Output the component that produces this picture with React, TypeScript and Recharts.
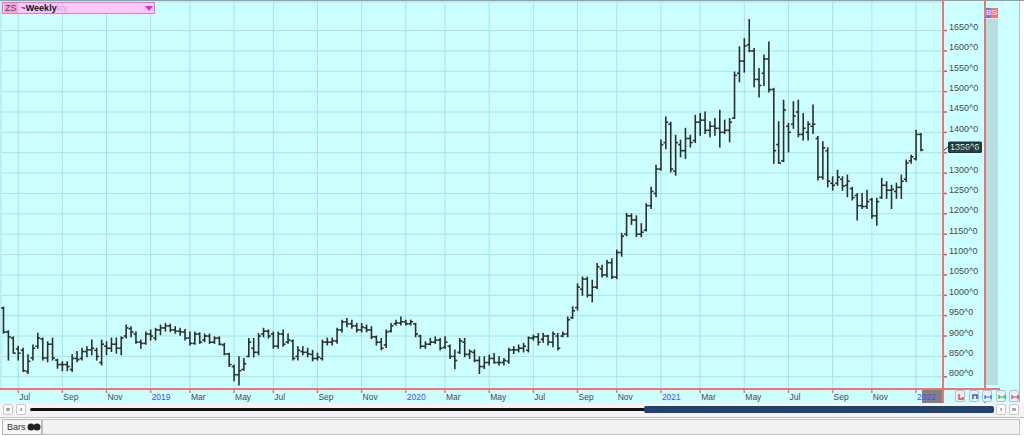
import React from 'react';
import { ComposedChart, Bar, XAxis, YAxis, CartesianGrid, ReferenceLine } from 'recharts';

const FONT = "'Liberation Sans', Arial, sans-serif";

// weekly ZS bars, first bar is the week of 8 Jun 2018
const firstWeekUtc = Date.UTC(2018, 5, 8);
const emptyWeeks = 4;

const opens = [
  969, 910, 895, 868, 865, 813, 846, 875, 893, 846,
  880, 841, 830, 830, 818, 845, 845, 862, 866, 865,
  835, 875, 870, 880, 870, 900, 918, 905, 885, 882,
  905, 895, 915, 920, 925, 915, 912, 910, 895, 882,
  905, 890, 900, 885, 895, 878, 856, 825, 805, 818,
  850, 870, 860, 905, 912, 905, 875, 905, 885, 888,
  850, 862, 860, 855, 845, 845, 885, 885, 888, 915,
  935, 930, 925, 915, 920, 915, 898, 885, 878, 912,
  930, 932, 935, 930, 930, 900, 875, 880, 885, 890,
  872, 875, 850, 860, 885, 855, 860, 840, 825, 835,
  845, 835, 835, 838, 866, 866, 870, 865, 895, 898,
  892, 900, 885, 900, 900, 905, 945, 970, 1015, 1040,
  1000, 1020, 1065, 1050, 1080, 1045, 1105, 1150, 1195, 1185,
  1150, 1160, 1220, 1250, 1310, 1375, 1420, 1305, 1370, 1355,
  1385, 1380, 1425, 1430, 1405, 1415, 1410, 1400, 1405, 1435,
  1545, 1575, 1615, 1600, 1530, 1545, 1580, 1505, 1370, 1330,
  1415, 1420, 1450, 1395, 1400, 1415, 1385, 1290, 1355, 1275,
  1275, 1285, 1270, 1262, 1245, 1220, 1218, 1235, 1195, 1240,
  1270, 1258, 1255, 1265, 1285, 1330, 1335, 1395,
];

const highs = [
  971, 913, 898, 875, 870, 854, 878, 907, 895, 886,
  895, 843, 837, 837, 854, 862, 870, 874, 890, 870,
  890, 886, 895, 895, 898, 927, 923, 910, 890, 910,
  915, 919, 927, 931, 929, 923, 919, 916, 910, 910,
  908, 905, 905, 898, 898, 882, 858, 828, 849, 845,
  894, 894, 906, 919, 915, 910, 910, 915, 905, 890,
  874, 874, 870, 865, 858, 890, 895, 895, 919, 939,
  943, 939, 931, 931, 927, 923, 900, 894, 915, 931,
  939, 947, 939, 939, 931, 902, 886, 894, 898, 894,
  898, 878, 866, 894, 894, 866, 866, 849, 849, 853,
  857, 849, 845, 870, 874, 878, 882, 898, 902, 906,
  906, 902, 910, 906, 910, 947, 972, 1028, 1045, 1045,
  1037, 1078, 1074, 1086, 1090, 1111, 1152, 1201, 1200, 1195,
  1176, 1225, 1265, 1319, 1381, 1438, 1425, 1393, 1381, 1410,
  1393, 1442, 1446, 1450, 1426, 1434, 1454, 1430, 1434, 1548,
  1610, 1630, 1677, 1606, 1557, 1590, 1622, 1508, 1426, 1479,
  1422, 1475, 1479, 1446, 1426, 1467, 1390, 1377, 1362, 1291,
  1307, 1291, 1295, 1265, 1250, 1250, 1258, 1238, 1238, 1287,
  1279, 1270, 1275, 1295, 1332, 1344, 1405, 1397,
];

const lows = [
  907, 841, 858, 841, 813, 808, 841, 870, 841, 837,
  841, 821, 815, 815, 813, 837, 841, 849, 854, 841,
  829, 854, 862, 858, 854, 895, 898, 882, 870, 880,
  890, 890, 903, 912, 911, 907, 902, 890, 878, 880,
  882, 886, 882, 882, 878, 854, 825, 790, 780, 816,
  849, 849, 854, 898, 895, 870, 870, 875, 882, 841,
  841, 854, 849, 839, 841, 841, 878, 878, 882, 910,
  923, 919, 910, 910, 910, 894, 878, 866, 872, 910,
  927, 927, 927, 927, 898, 870, 870, 878, 882, 866,
  870, 845, 820, 857, 849, 845, 837, 808, 820, 829,
  833, 829, 829, 833, 857, 861, 861, 861, 890, 878,
  885, 878, 874, 866, 898, 898, 943, 964, 1000, 996,
  984, 1017, 1045, 1045, 1041, 1041, 1096, 1146, 1174, 1144,
  1144, 1158, 1213, 1242, 1307, 1360, 1303, 1295, 1340, 1336,
  1364, 1375, 1393, 1397, 1389, 1393, 1364, 1397, 1377, 1434,
  1524, 1548, 1598, 1512, 1487, 1515, 1499, 1324, 1324, 1328,
  1352, 1410, 1389, 1381, 1381, 1397, 1283, 1285, 1266, 1258,
  1270, 1258, 1242, 1234, 1185, 1213, 1213, 1189, 1172, 1238,
  1238, 1213, 1238, 1238, 1279, 1324, 1332, 1355,
];

const closes = [
  910, 898, 858, 858, 815, 838, 870, 895, 846, 880,
  846, 830, 830, 825, 845, 842, 862, 866, 870, 850,
  880, 870, 880, 870, 895, 920, 910, 885, 882, 905,
  900, 915, 920, 925, 915, 912, 910, 895, 882, 905,
  885, 900, 885, 895, 880, 856, 830, 805, 815, 832,
  885, 860, 900, 912, 900, 875, 905, 880, 890, 845,
  865, 860, 856, 845, 848, 885, 885, 888, 915, 935,
  930, 925, 915, 922, 915, 898, 885, 870, 910, 925,
  932, 935, 930, 935, 905, 875, 880, 885, 890, 870,
  885, 850, 840, 888, 855, 862, 840, 825, 835, 845,
  835, 835, 840, 866, 866, 870, 875, 895, 898, 885,
  900, 885, 905, 870, 905, 940, 962, 1020, 1040, 1000,
  1020, 1070, 1050, 1080, 1045, 1105, 1145, 1195, 1185, 1150,
  1155, 1220, 1255, 1310, 1370, 1425, 1310, 1375, 1355, 1385,
  1375, 1425, 1430, 1405, 1415, 1410, 1400, 1405, 1425, 1540,
  1575, 1612, 1600, 1530, 1515, 1580, 1505, 1355, 1325, 1455,
  1400, 1440, 1395, 1410, 1420, 1420, 1290, 1362, 1280, 1270,
  1290, 1268, 1280, 1240, 1220, 1218, 1230, 1195, 1230, 1270,
  1258, 1260, 1265, 1280, 1325, 1340, 1395, 1356.75,
];

const lastPrice = 1356.75;
const lastPriceLabel = '1356^6';

const priceTicks = [800, 850, 900, 950, 1000, 1050, 1100, 1150, 1200, 1250, 1300, 1350, 1400, 1450, 1500, 1550, 1600, 1650];

const monthTickDates = [
  '2018-07-01', '2018-09-01', '2018-11-01', '2019-01-01', '2019-03-01', '2019-05-01',
  '2019-07-01', '2019-09-01', '2019-11-01', '2020-01-01', '2020-03-01', '2020-05-01',
  '2020-07-01', '2020-09-01', '2020-11-01', '2021-01-01', '2021-03-01', '2021-05-01',
  '2021-07-01', '2021-09-01', '2021-11-01', '2022-01-01',
];
const monthTickLabels = [
  'Jul', 'Sep', 'Nov', '2019', 'Mar', 'May',
  'Jul', 'Sep', 'Nov', '2020', 'Mar', 'May',
  'Jul', 'Sep', 'Nov', '2021', 'Mar', 'May',
  'Jul', 'Sep', 'Nov', '2022',
];

const DAY = 86400000;
const weekDates: string[] = [];
for (let i = 0; i < opens.length + emptyWeeks; i++) {
  weekDates.push(new Date(firstWeekUtc + i * 7 * DAY).toISOString().slice(0, 10));
}

const data = weekDates.map((d, i) =>
  i < opens.length
    ? { d, range: [lows[i], highs[i]], open: opens[i], high: highs[i], low: lows[i], close: closes[i] }
    : { d }
);

// put each month tick on the nearest weekly bar
const tickLabelByWeek = new Map<string, string>();
const xTicks = monthTickDates.map((md, k) => {
  const t = Date.parse(md);
  let best = weekDates[0];
  let bestDiff = Infinity;
  weekDates.forEach((wd) => {
    const diff = Math.abs(Date.parse(wd) - t);
    if (diff < bestDiff) {
      bestDiff = diff;
      best = wd;
    }
  });
  tickLabelByWeek.set(best, monthTickLabels[k]);
  return best;
});

const RED = '#ec7676';

function OhlcBar(props: any) {
  const { x, y, width, height, payload } = props;
  if (!payload || payload.high == null) return null;
  const top = Math.min(y, y + height);
  const bottom = Math.max(y, y + height);
  const span = payload.high - payload.low || 1;
  const py = (v: number) => top + ((payload.high - v) / span) * (bottom - top);
  const cx = x + width / 2;
  const oy = py(payload.open);
  const cy = py(payload.close);
  return (
    <g stroke="#2e2e2e" strokeWidth={1.6} fill="none">
      <line x1={cx} y1={top - 0.5} x2={cx} y2={bottom + 0.5} />
      <line x1={cx - 2.4} y1={oy} x2={cx} y2={oy} />
      <line x1={cx} y1={cy} x2={cx + 2.4} y2={cy} />
    </g>
  );
}

function MonthTick(props: any) {
  const { x, y, payload } = props;
  const label = tickLabelByWeek.get(payload.value) ?? '';
  const isYear = /^\d{4}$/.test(label);
  return (
    <text x={x + 1} y={y + 5} fontSize={8.5} fontFamily={FONT} fill={isYear ? '#4d4df5' : '#4a4a4a'} textAnchor="start">
      {label}
    </text>
  );
}

function PriceTick(props: any) {
  const { x, y, payload } = props;
  return (
    <text x={x} y={y - 0.5} fontSize={9} fontFamily={FONT} fill="#4a4a4a" textAnchor="start">
      {`${payload.value}^0`}
    </text>
  );
}

function LastPriceTag(props: any) {
  const vb = props.viewBox;
  if (!vb) return null;
  const x0 = vb.x + vb.width;
  const y0 = vb.y;
  return (
    <g>
      <line x1={x0} y1={y0 + 1} x2={x0 + 5} y2={y0 - 3} stroke="#1d3b3b" strokeWidth={1} />
      <rect x={x0 + 5} y={y0 - 8.5} width={34} height={11.5} rx={1.5} fill="#1d3b3b" />
      <text x={x0 + 7} y={y0 + 0.5} fontSize={9} fontFamily={FONT} fill="#e6ffff">
        {lastPriceLabel}
      </text>
    </g>
  );
}

function Arrows({ color, kind }: { color: string; kind: number }) {
  return (
    <svg width={10} height={12} style={{ position: 'absolute', left: 0, top: 0 }}>
      {kind === 0 && <path d="M3 3 V8 H7 V6" stroke={color} strokeWidth={1.3} fill="none" />}
      {kind === 1 && <path d="M3 8 V4 H7 V8" stroke={color} strokeWidth={1.5} fill="none" />}
      {kind === 2 && <path d="M2 4 V8 M8 4 V8 M2 6 H8" stroke={color} strokeWidth={1.2} fill="none" />}
    </svg>
  );
}

export default function App() {
  const buttons = [
    { left: 955, color: '#e03a3a', kind: 0 },
    { left: 968.5, color: '#2a55d0', kind: 1 },
    { left: 982, color: '#3a66e0', kind: 2 },
    { left: 995.5, color: '#33b044', kind: 2 },
    { left: 1009, color: '#e03a3a', kind: 2 },
  ];
  const navBtn = (left: number, glyph: string) => (
    <div
      style={{
        position: 'absolute', left, top: 404, width: 10, height: 11, boxSizing: 'border-box',
        border: '1px solid #c6c6c6', borderRadius: 2, background: '#ffffff', fontSize: 8,
        lineHeight: '9px', textAlign: 'center', color: '#333',
      }}
    >
      {glyph}
    </div>
  );

  return (
    <div style={{ position: 'absolute', left: 0, top: 0, width: 1024, height: 436, background: '#ffffff', overflow: 'hidden', fontFamily: FONT }}>
      <div style={{ position: 'absolute', left: 0, top: 0, width: 1019, height: 403, background: '#ccffff', borderRight: '1px solid #b8b8b8' }} />
      <div style={{ position: 'absolute', left: 0, top: 0, width: 1024, height: 1, background: '#9a9a9a' }} />
      <div style={{ position: 'absolute', left: 922, top: 390, width: 21, height: 13, background: '#808080' }} />

      <div style={{ position: 'absolute', left: 0, top: 0 }}>
        <ComposedChart width={985} height={403} data={data} margin={{ top: 2, right: 0, bottom: 0, left: 1 }}>
          <CartesianGrid stroke="#aae3e3" strokeWidth={1} />
          <XAxis
            dataKey="d"
            ticks={xTicks}
            interval={0}
            height={14}
            axisLine={false}
            tickSize={4}
            tickLine={{ stroke: RED, strokeWidth: 1.5 }}
            tick={<MonthTick />}
          />
          <YAxis
            orientation="right"
            width={42}
            domain={[770, 1720]}
            ticks={priceTicks}
            interval={0}
            allowDataOverflow
            axisLine={false}
            tickSize={4}
            tickLine={{ stroke: '#e05a5a', strokeWidth: 1.5 }}
            tick={<PriceTick />}
          />
          <Bar dataKey="range" shape={<OhlcBar />} isAnimationActive={false} />
          <ReferenceLine y={lastPrice} stroke="none" label={<LastPriceTag />} />
        </ComposedChart>
      </div>

      {/* axis frame lines */}
      <div style={{ position: 'absolute', left: 942, top: 0, width: 2, height: 403, background: RED }} />
      <div style={{ position: 'absolute', left: 984, top: 0, width: 2, height: 403, background: RED }} />
      <div style={{ position: 'absolute', left: 0, top: 388, width: 1000, height: 2, background: RED }} />

      {/* grey strip + B/S */}
      <div style={{ position: 'absolute', left: 986, top: 19, width: 12, height: 366, background: '#b6dfdf' }} />
      <div style={{ position: 'absolute', left: 986, top: 8, width: 5, height: 10, background: '#7272ff', color: '#fff', fontSize: 8, lineHeight: '10px', textAlign: 'center', overflow: 'hidden' }}>B</div>
      <div style={{ position: 'absolute', left: 991, top: 8, width: 7, height: 10, background: '#ff7272', color: '#fff', fontSize: 8, lineHeight: '10px', textAlign: 'center', overflow: 'hidden' }}>S</div>

      {/* symbol header */}
      <div
        style={{
          position: 'absolute', left: 2, top: 2, width: 153, height: 12, boxSizing: 'border-box',
          background: '#f7c9f7', border: '1px solid #e472e4', fontSize: 9, lineHeight: '10px', whiteSpace: 'nowrap',
        }}
      >
        <span style={{ background: '#efaad9', color: '#6e3a55', padding: '0 1px', marginLeft: 1 }}>ZS</span>
        <span style={{ color: '#222', marginLeft: 3 }}>~</span>
        <span style={{ fontWeight: 'bold', color: '#111' }}>Weekly</span>
        <span style={{ color: '#d3a8d3' }}>kly</span>
        <svg width={8} height={5} style={{ position: 'absolute', left: 142, top: 3 }}>
          <path d="M0 0 H8 L4 5 Z" fill="#d630d6" />
        </svg>
      </div>

      {/* x axis buttons */}
      {buttons.map((b, i) => (
        <div
          key={i}
          style={{
            position: 'absolute', left: b.left, top: 390, width: 10, height: 12, boxSizing: 'border-box',
            border: '1px solid #a9c3cf', borderRadius: 2, background: '#e4f1f7',
          }}
        >
          <Arrows color={b.color} kind={b.kind} />
        </div>
      ))}

      {/* scroll bar row */}
      <div style={{ position: 'absolute', left: 0, top: 403, width: 1024, height: 14, background: '#f4f4f4' }} />
      {navBtn(3, '«')}
      {navBtn(16, '‹')}
      <div style={{ position: 'absolute', left: 30, top: 408, width: 616, height: 3, background: '#111', borderRadius: 1.5 }} />
      <div style={{ position: 'absolute', left: 644, top: 406, width: 350, height: 7, background: '#21426c', borderRadius: 2 }} />
      {navBtn(996, '›')}
      {navBtn(1009, '»')}

      {/* bottom tabs */}
      <div style={{ position: 'absolute', left: 0, top: 417, width: 1024, height: 1, background: '#c4c4c4' }} />
      <div style={{ position: 'absolute', left: 42, top: 419, width: 978, height: 16, boxSizing: 'border-box', border: '1px solid #c2c2c2', background: '#f2f2f2' }} />
      <div
        style={{
          position: 'absolute', left: 2, top: 419, width: 40, height: 16, boxSizing: 'border-box',
          border: '1px solid #b4b4b4', background: '#f6f6f6', fontSize: 9, lineHeight: '14px', color: '#333', paddingLeft: 4,
        }}
      >
        Bars
        <svg width={14} height={8} style={{ position: 'absolute', left: 24, top: 3 }}>
          <circle cx={4} cy={4} r={3.5} fill="#222" />
          <circle cx={10} cy={4} r={3.5} fill="#222" />
        </svg>
      </div>
    </div>
  );
}
